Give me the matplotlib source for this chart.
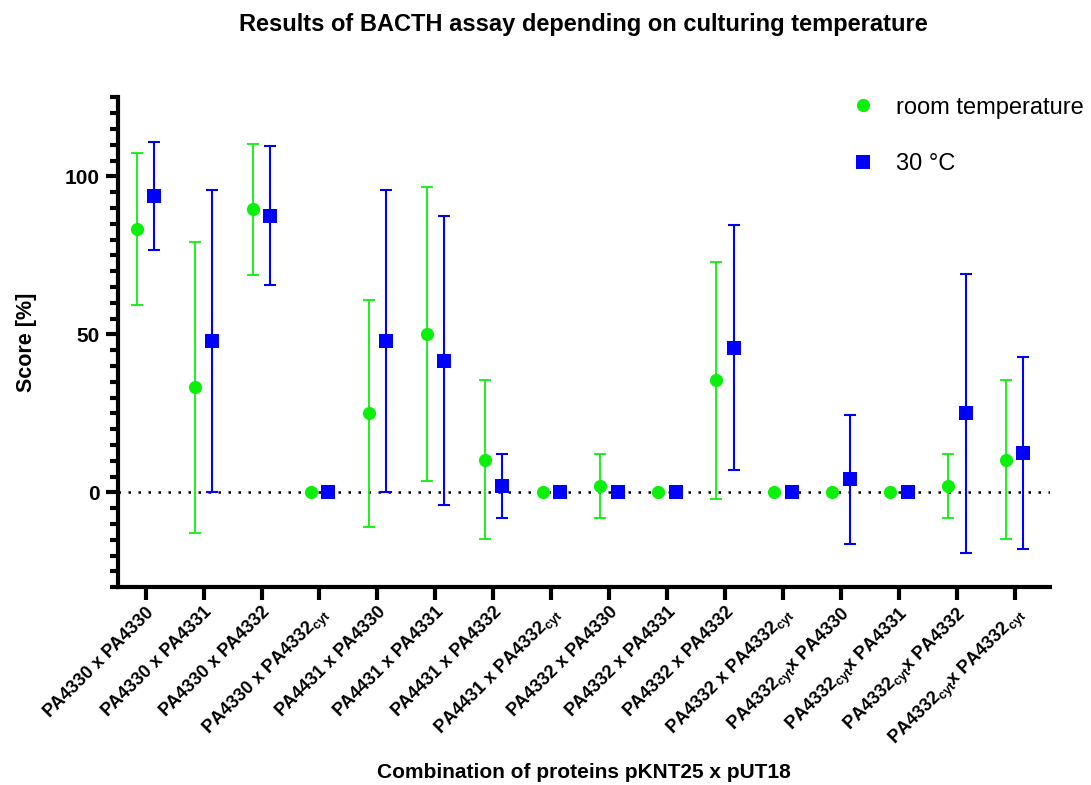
import numpy as np
import matplotlib.pyplot as plt
from matplotlib.ticker import MultipleLocator

plt.rcParams['font.family'] = ['Liberation Sans', 'DejaVu Sans']
plt.rcParams['mathtext.fontset'] = 'custom'
plt.rcParams['mathtext.rm'] = 'Liberation Sans'

cyt = r'PA4332$_{\mathregular{cyt}}$'
labels = ['PA4330 x PA4330', 'PA4330 x PA4331', 'PA4330 x PA4332', 'PA4330 x ' + cyt,
          'PA4431 x PA4330', 'PA4431 x PA4331', 'PA4431 x PA4332', 'PA4431 x ' + cyt,
          'PA4332 x PA4330', 'PA4332 x PA4331', 'PA4332 x PA4332', 'PA4332 x ' + cyt,
          cyt + 'x PA4330', cyt + 'x PA4331', cyt + 'x PA4332', cyt + 'x ' + cyt]

room_mean = [83.3, 33.3, 89.6, 0, 25.0, 50.0, 10.4, 0, 2.1, 0, 35.4, 0, 0, 0, 2.1, 10.4]
room_sd = [24.1, 46.0, 20.7, 0, 36.0, 46.5, 25.3, 0, 10.1, 0, 37.6, 0, 0, 0, 10.1, 25.3]
warm_mean = [93.8, 47.9, 87.5, 0, 47.9, 41.7, 2.1, 0, 0, 0, 45.8, 0, 4.2, 0, 25.0, 12.5]
warm_sd = [17.0, 47.9, 22.0, 0, 47.9, 45.8, 10.1, 0, 0, 0, 38.7, 0, 20.4, 0, 44.2, 30.4]

green = '#0BF00B'
blue = '#0000FF'

fig = plt.figure(figsize=(10.91, 7.85), dpi=100)
ax = fig.add_axes([0.108, 0.252, 0.854, 0.624])

x = np.arange(len(labels))
off = 0.15

ax.axhline(0, color='black', linestyle=(0, (1, 3)), linewidth=1.8, zorder=1)


def draw_series(xs, mean, sd, color, marker, lw, cap, label):
    mean = np.array(mean)
    sd = np.array(sd)
    has = sd > 0
    ax.errorbar(xs[has], mean[has], yerr=sd[has], fmt='none', ecolor=color,
                elinewidth=lw, capsize=cap, capthick=lw, zorder=2)
    ax.plot(xs, mean, linestyle='none', marker=marker, color=color,
            markersize=9.5, markeredgewidth=0, label=label, zorder=3)


draw_series(x - off, room_mean, room_sd, green, 'o', 1.3, 4, 'room temperature')
draw_series(x + off, warm_mean, warm_sd, blue, 's', 1.5, 4.5, '30 \u00b0C')

ax.set_xlim(-0.48, 15.6)
ax.set_ylim(-30, 125)
ax.set_yticks([0, 50, 100])
ax.yaxis.set_minor_locator(MultipleLocator(5))
ax.set_xticks(x)
ax.set_xticklabels(labels, rotation=45, ha='right', rotation_mode='anchor',
                   fontsize=13, fontweight='bold')
for t in ax.get_yticklabels():
    t.set_fontweight('bold')
    t.set_fontsize(15)

for side in ['top', 'right']:
    ax.spines[side].set_visible(False)
for side in ['left', 'bottom']:
    ax.spines[side].set_linewidth(3)

ax.tick_params(axis='y', which='major', length=9, width=3, pad=4)
ax.tick_params(axis='y', which='minor', length=6, width=3)
ax.tick_params(axis='x', which='major', length=9, width=3, pad=3)

ax.set_ylabel('Score [%]', fontsize=15.5, fontweight='bold', labelpad=20)
ax.set_xlabel('Combination of proteins pKNT25 x pUT18', fontsize=15,
              fontweight='bold')
ax.xaxis.set_label_coords(0.5, -0.358)
ax.set_title('Results of BACTH assay depending on culturing temperature',
             fontsize=17, fontweight='bold', pad=48)

ax.legend(loc='upper right', bbox_to_anchor=(1.06, 1.045), frameon=False,
          fontsize=17, labelspacing=1.45, handletextpad=0.4, markerscale=1.0)

fig.savefig('out.png', dpi=100)
